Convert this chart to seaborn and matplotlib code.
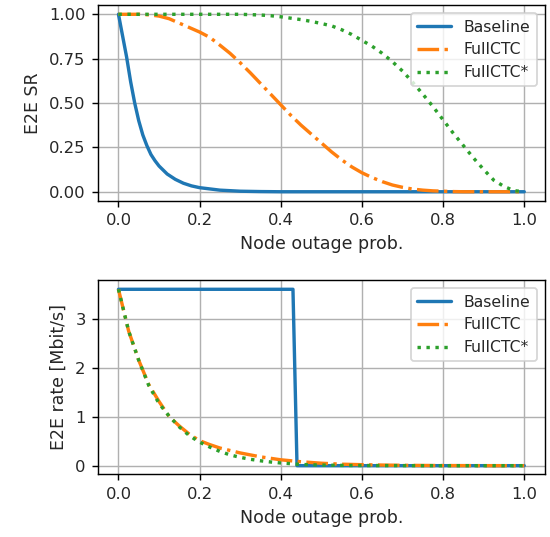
import numpy as np
import pandas as pd
import matplotlib
matplotlib.use("Agg")
import matplotlib.pyplot as plt
import seaborn as sns

# ---------------- data ----------------
series_names = ["Baseline", "FullCTC", "FullCTC*"]

# top panel: E2E success rate
p_base_sr = [0.0, 0.01, 0.02, 0.03, 0.04, 0.05, 0.06, 0.07, 0.08, 0.09, 0.10,
             0.12, 0.14, 0.16, 0.18, 0.20, 0.25, 0.30, 0.35, 0.40, 1.0]
sr_base = [1.0, 0.88, 0.76, 0.62, 0.50, 0.40, 0.32, 0.26, 0.21, 0.175, 0.145,
           0.10, 0.07, 0.048, 0.033, 0.023, 0.009, 0.003, 0.001, 0.0, 0.0]

p_grid = [0.0, 0.025, 0.05, 0.075, 0.1, 0.125, 0.15, 0.175, 0.2, 0.225,
          0.25, 0.275, 0.3, 0.325, 0.35, 0.375, 0.4, 0.425, 0.45, 0.475,
          0.5, 0.525, 0.55, 0.575, 0.6, 0.625, 0.65, 0.675, 0.7, 0.725,
          0.75, 0.775, 0.8, 0.825, 0.85, 0.875, 0.9, 0.925, 0.95, 0.975, 1.0]
sr_fullctc = [1.0, 1.0, 1.0, 0.997, 0.99, 0.975, 0.95, 0.925, 0.90, 0.87,
              0.826, 0.78, 0.727, 0.67, 0.61, 0.55, 0.49, 0.43, 0.375, 0.325,
              0.275, 0.225, 0.18, 0.14, 0.107, 0.08, 0.057, 0.038, 0.025, 0.015,
              0.009, 0.005, 0.003, 0.001, 0.0, 0.0, 0.0, 0.0, 0.0, 0.0, 0.0]
sr_fullctc_star = [1.0, 1.0, 1.0, 1.0, 1.0, 1.0, 1.0, 1.0, 1.0, 1.0,
                   1.0, 1.0, 1.0, 0.998, 0.996, 0.992, 0.986, 0.978, 0.97, 0.96,
                   0.948, 0.935, 0.913, 0.886, 0.853, 0.82, 0.78, 0.733, 0.68, 0.617,
                   0.55, 0.48, 0.405, 0.33, 0.26, 0.19, 0.125, 0.065, 0.03, 0.006, 0.0]

# bottom panel: E2E rate [Mbit/s]
p_base_rate = [0.0, 0.43, 0.44, 1.0]
rate_base = [3.6, 3.6, 0.0, 0.0]

p_rate = [0.0, 0.025, 0.05, 0.075, 0.1, 0.125, 0.15, 0.175, 0.2, 0.225,
          0.25, 0.275, 0.3, 0.325, 0.35, 0.375, 0.4, 0.425, 0.45, 0.475,
          0.5, 0.525, 0.55, 0.575, 0.6, 0.65, 0.7, 0.75, 0.8, 0.85, 0.9, 1.0]
rate_fullctc = [3.6, 2.75, 2.15, 1.65, 1.31, 1.0, 0.81, 0.64, 0.51, 0.43,
                0.36, 0.31, 0.26, 0.22, 0.18, 0.15, 0.12, 0.10, 0.08, 0.065,
                0.05, 0.04, 0.03, 0.025, 0.02, 0.012, 0.007, 0.004, 0.002, 0.001, 0.0, 0.0]
rate_fullctc_star = [3.6, 2.75, 2.15, 1.63, 1.27, 1.01, 0.79, 0.61, 0.48, 0.38,
                     0.29, 0.22, 0.17, 0.13, 0.10, 0.075, 0.055, 0.04, 0.025, 0.018,
                     0.012, 0.009, 0.006, 0.004, 0.003, 0.002, 0.001, 0.0, 0.0, 0.0, 0.0, 0.0]

x_ticks = [0.0, 0.2, 0.4, 0.6, 0.8, 1.0]
sr_ticks = [0.0, 0.25, 0.5, 0.75, 1.0]
rate_ticks = [0, 1, 2, 3]

# ---------------- plot ----------------
sns.set_style("ticks")
plt.rcParams["font.family"] = ["DejaVu Sans"]
plt.rcParams["font.size"] = 9.8

colors = sns.color_palette("tab10")
styles = ["-", "-.", ":"]
LW = 1.9

DPI = 128
fig = plt.figure(figsize=(550 / DPI, 537 / DPI), dpi=DPI)
ax1 = fig.add_axes([0.1785, 0.6264, 0.8116, 0.3635])
ax2 = fig.add_axes([0.1785, 0.1164, 0.8116, 0.3613])

top_data = [(p_base_sr, sr_base), (p_grid, sr_fullctc), (p_grid, sr_fullctc_star)]
bot_data = [(p_base_rate, rate_base), (p_rate, rate_fullctc), (p_rate, rate_fullctc_star)]

for ax, data in [(ax1, top_data), (ax2, bot_data)]:
    for i, (name, (xs, ys)) in enumerate(zip(series_names, data)):
        df = pd.DataFrame({"p": xs, "v": ys})
        sns.lineplot(data=df, x="p", y="v", ax=ax, label=name, color=colors[i],
                     linestyle=styles[i], linewidth=LW, estimator=None, sort=False)
    ax.grid(True, color="#b0b0b0", linewidth=0.8)
    ax.set_axisbelow(True)
    ax.set_xticks(x_ticks)
    ax.set_xlabel("Node outage prob.", fontsize=9.8)
    for s in ax.spines.values():
        s.set_visible(True)
        s.set_color("black")
        s.set_linewidth(0.8)
    ax.tick_params(direction="out", length=3.5, width=0.8, color="black", labelsize=9.2)
    ax.legend(loc="upper right", fancybox=True, framealpha=0.8, edgecolor="#cccccc",
              fontsize=8.8, handlelength=2.2)

ax1.set_yticks(sr_ticks)
ax1.set_yticklabels(["0.00", "0.25", "0.50", "0.75", "1.00"])
ax1.set_ylabel("E2E SR", fontsize=9.8)
ax2.set_yticks(rate_ticks)
ax2.set_ylabel("E2E rate [Mbit/s]", fontsize=9.8)

for ax in (ax1, ax2):
    ax.margins(x=0.05, y=0.05)

fig.savefig("out.png", dpi=DPI)
